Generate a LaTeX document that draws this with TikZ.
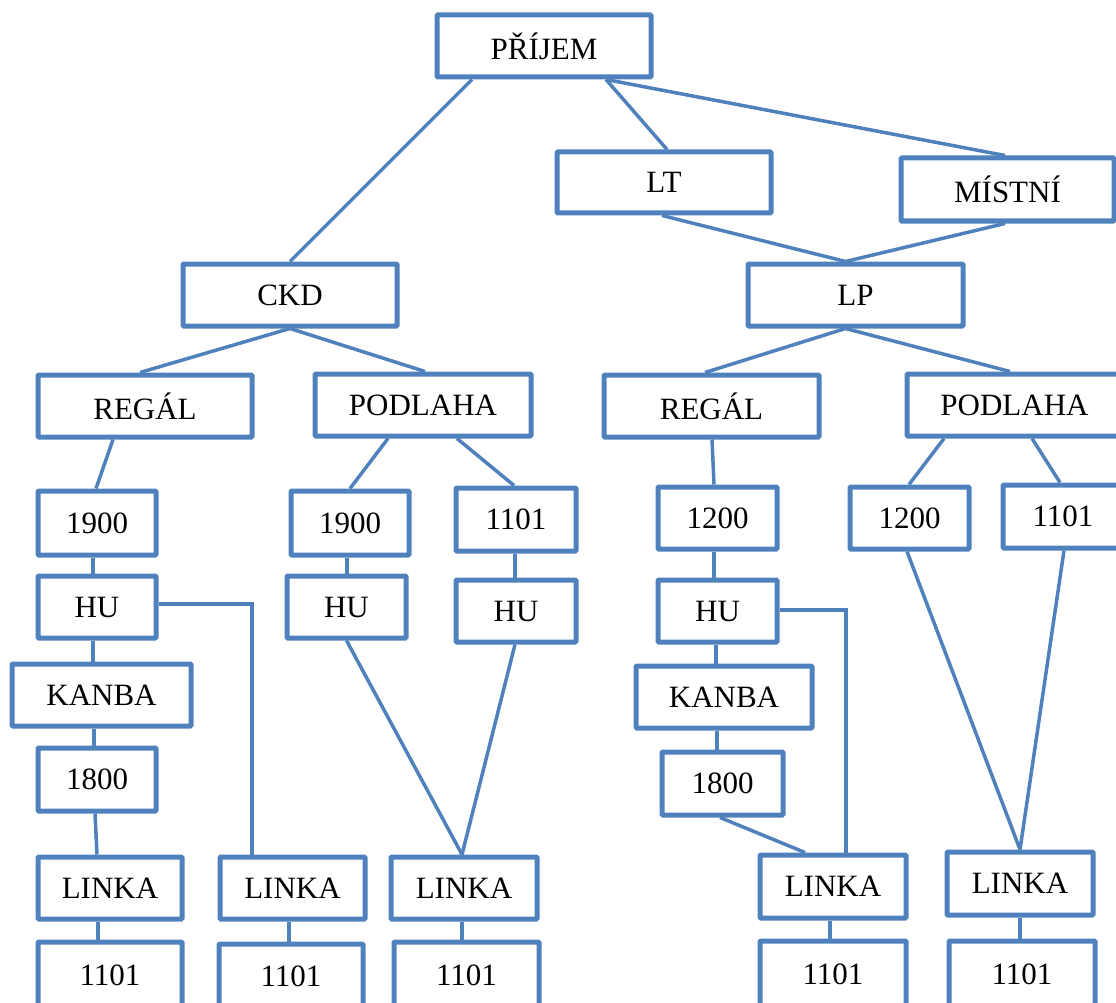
\documentclass[tikz,border=0pt]{standalone}
\usepackage{fontspec}
\setmainfont{Liberation Serif}
\definecolor{boxblue}{HTML}{4F81BD}
\begin{document}
\begin{tikzpicture}[x=1pt,y=-1pt,
  box/.style={draw=boxblue,line width=5pt,rectangle,inner sep=0pt,rounded corners=1pt,
    minimum height=62pt,font=\fontsize{31}{36}\selectfont,text=black},
  conn/.style={draw=boxblue,line width=3.5pt}]
\useasboundingbox (0,0) rectangle (1116,1003);
% top levels
\node[box,minimum width=214pt] (prijem) at (544,46) {PŘÍJEM};
\node[box,minimum width=214pt,minimum height=61pt] (lt) at (664,182.5) {LT};
\node[box,minimum width=213pt,minimum height=63pt] (mistni) at (1007.5,189.5) {MÍSTNÍ};
\node[box,minimum width=214pt] (ckd) at (290,295) {CKD};
\node[box,minimum width=215pt] (lp) at (855.5,295) {LP};
\node[box,minimum width=214pt] (regalL) at (145,406) {REGÁL};
\node[box,minimum width=216pt] (podlahaL) at (423,405) {PODLAHA};
\node[box,minimum width=215pt] (regalR) at (711.5,406) {REGÁL};
\node[box,minimum width=215pt] (podlahaR) at (1014.5,405) {PODLAHA};
% left branch
\node[box,minimum width=118pt,minimum height=64pt] (n1900L) at (97,523) {1900};
\node[box,minimum width=118pt] (huL) at (97,607) {HU};
\node[box,minimum width=179pt] (kanbaL) at (101.5,695) {KANBA};
\node[box,minimum width=118pt,minimum height=63pt] (n1800L) at (97,779.5) {1800};
\node[box,minimum width=144pt] (linka1) at (110,888) {LINKA};
\node[box,minimum width=144pt,minimum height=66pt] (b1) at (110,975) {1101};
\node[box,minimum width=145pt] (linka2) at (292.5,888) {LINKA};
\node[box,minimum width=144pt,minimum height=64pt] (b2) at (291,976) {1101};
\node[box,minimum width=118pt,minimum height=64pt] (n1900M) at (350,523) {1900};
\node[box,minimum width=119pt] (huM) at (346.5,607) {HU};
\node[box,minimum width=120pt,minimum height=63pt] (n1101M) at (516,519.5) {1101};
\node[box,minimum width=120pt] (huM2) at (516,611) {HU};
\node[box,minimum width=146pt] (linka3) at (464,888) {LINKA};
\node[box,minimum width=145pt,minimum height=66pt] (b3) at (466.5,975) {1101};
% right branch
\node[box,minimum width=119pt] (n1200) at (717.5,518) {1200};
\node[box,minimum width=119pt] (huR) at (717.5,611) {HU};
\node[box,minimum width=176pt] (kanbaR) at (724,697) {KANBA};
\node[box,minimum width=121pt,minimum height=63pt] (n1800R) at (722.5,783.5) {1800};
\node[box,minimum width=146pt,minimum height=63pt] (linka4) at (833,886.5) {LINKA};
\node[box,minimum width=146pt,minimum height=67pt] (b4) at (833,974.5) {1101};
\node[box,minimum width=119pt] (n1200RR) at (909.5,518) {1200};
\node[box,minimum width=120pt,minimum height=63pt] (n1101RR) at (1063,516.5) {1101};
\node[box,minimum width=146pt,minimum height=63pt] (linka5) at (1020,883.5) {LINKA};
\node[box,minimum width=146pt,minimum height=67pt] (b5) at (1022,974.5) {1101};
% connectors
\draw[conn] ([xshift=-72pt]prijem.south) -- (ckd.north);
\draw[conn] ([xshift=62pt]prijem.south) -- ([xshift=3pt]lt.north);
\draw[conn] ([xshift=62pt]prijem.south) -- ([xshift=-2.5pt]mistni.north);
\draw[conn] ([xshift=-2pt]lt.south) -- ([xshift=-10pt]lp.north);
\draw[conn] ([xshift=-2.5pt]mistni.south) -- ([xshift=-10pt]lp.north);
\draw[conn] (ckd.south) -- ([xshift=-5pt]regalL.north);
\draw[conn] (ckd.south) -- ([xshift=2pt]podlahaL.north);
\draw[conn] ([xshift=-10pt]lp.south) -- ([xshift=-6.5pt]regalR.north);
\draw[conn] ([xshift=-10pt]lp.south) -- ([xshift=-4.5pt]podlahaR.north);
\draw[conn] ([xshift=-32pt]regalL.south) -- ([xshift=-1pt]n1900L.north);
\draw[conn] ([xshift=-35pt]podlahaL.south) -- (n1900M.north);
\draw[conn] ([xshift=34pt]podlahaL.south) -- ([xshift=-2pt]n1101M.north);
\draw[conn] ([xshift=-4pt]n1900L.south) -- ([xshift=-4pt]huL.north);
\draw[conn] ([xshift=-4pt]huL.south) -- ([xshift=-8.5pt]kanbaL.north);
\draw[conn] ([yshift=3pt]huL.east) -| ([xshift=-40.5pt]linka2.north);
\draw[conn] ([xshift=-7.5pt]kanbaL.south) -- ([xshift=-3pt]n1800L.north);
\draw[conn] ([xshift=-2pt]n1800L.south) -- ([xshift=-13pt]linka1.north);
\draw[conn] ([xshift=-12pt]linka1.south) -- ([xshift=-12pt]b1.north);
\draw[conn] ([xshift=-3pt]n1900M.south) -- ([xshift=0.5pt]huM.north);
\draw[conn] (huM.south) -- ([xshift=-2pt]linka3.north);
\draw[conn] ([xshift=-1pt]n1101M.south) -- ([xshift=-1pt]huM2.north);
\draw[conn] ([xshift=-1pt]huM2.south) -- ([xshift=-2pt]linka3.north);
\draw[conn] ([xshift=-3.5pt]linka2.south) -- ([xshift=-2pt]b2.north);
\draw[conn] ([xshift=-2pt]linka3.south) -- ([xshift=-4.5pt]b3.north);
\draw[conn] ([xshift=0.5pt]regalR.south) -- ([xshift=-3.5pt]n1200.north);
\draw[conn] ([xshift=-3.5pt]n1200.south) -- ([xshift=-3.5pt]huR.north);
\draw[conn] ([yshift=1pt]huR.east) -| ([xshift=13pt]linka4.north);
\draw[conn] ([xshift=-1.5pt]huR.south) -- ([xshift=-8pt]kanbaR.north);
\draw[conn] ([xshift=-7pt]kanbaR.south) -- ([xshift=-5.5pt]n1800R.north);
\draw[conn] ([xshift=-2.5pt]n1800R.south) -- ([xshift=-28pt]linka4.north);
\draw[conn] ([xshift=-3pt]linka4.south) -- ([xshift=-3pt]b4.north);
\draw[conn] ([xshift=-70.5pt]podlahaR.south) -- ([xshift=-0.5pt]n1200RR.north);
\draw[conn] ([xshift=17.5pt]podlahaR.south) -- ([xshift=-3pt]n1101RR.north);
\draw[conn] ([xshift=-2.5pt]n1200RR.south) -- (linka5.north);
\draw[conn] ([xshift=1pt]n1101RR.south) -- (linka5.north);
\draw[conn] (linka5.south) -- ([xshift=-2pt]b5.north);
\end{tikzpicture}
\end{document}
